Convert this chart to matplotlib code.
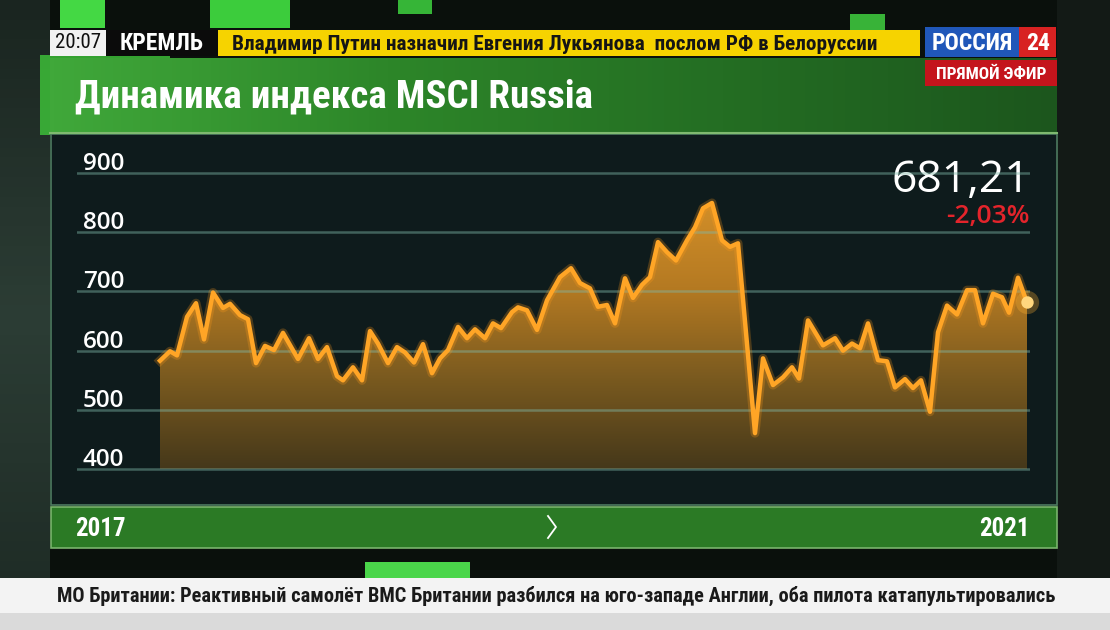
import numpy as np
import matplotlib
matplotlib.use('Agg')
import matplotlib.pyplot as plt
from matplotlib import font_manager
from matplotlib.patches import Rectangle, Polygon
from matplotlib.colors import LinearSegmentedColormap

# Индекс MSCI Russia (время в долях года)
years = [2017.760, 2017.800, 2017.828, 2017.868, 2017.904, 2017.936, 2017.972, 2018.012,
         2018.040, 2018.080, 2018.112, 2018.144, 2018.180, 2018.216, 2018.252, 2018.312,
         2018.356, 2018.392, 2018.428, 2018.468, 2018.492, 2018.532, 2018.568, 2018.600,
         2018.632, 2018.672, 2018.708, 2018.740, 2018.776, 2018.812, 2018.848, 2018.880,
         2018.912, 2018.952, 2018.988, 2019.020, 2019.060, 2019.092, 2019.124, 2019.168,
         2019.192, 2019.228, 2019.268, 2019.308, 2019.360, 2019.404, 2019.440, 2019.480,
         2019.512, 2019.548, 2019.580, 2019.620, 2019.652, 2019.688, 2019.720, 2019.752,
         2019.788, 2019.824, 2019.868, 2019.900, 2019.932, 2019.968, 2020.008, 2020.040,
         2020.072, 2020.140, 2020.172, 2020.212, 2020.252, 2020.288, 2020.316, 2020.352,
         2020.412, 2020.460, 2020.492, 2020.528, 2020.560, 2020.592, 2020.632, 2020.668,
         2020.700, 2020.740, 2020.772, 2020.804, 2020.840, 2020.872, 2020.908, 2020.948,
         2020.988, 2021.020, 2021.052, 2021.092, 2021.128, 2021.156, 2021.192, 2021.228]
values = [583, 599, 592, 657, 680, 619, 698, 672,
          679, 660, 653, 579, 608, 601, 630, 586,
          621, 586, 606, 557, 550, 572, 550, 633,
          612, 579, 606, 597, 580, 611, 562, 587,
          601, 640, 621, 636, 621, 646, 638, 665,
          673, 668, 635, 685, 724, 739, 714, 705,
          674, 677, 646, 722, 689, 711, 724, 783,
          766, 752, 786, 808, 840, 849, 786, 775,
          781, 461, 587, 542, 555, 572, 553, 651,
          609, 621, 600, 612, 604, 646, 584, 582,
          538, 552, 537, 550, 497, 631, 676, 661,
          702, 702, 646, 696, 690, 664, 723, 681.21]
y_ticks = [400, 500, 600, 700, 800, 900]
last_value = '681,21'
last_change = '-2,03%'
start_label = '2017'
end_label = '2021'
title = 'Динамика индекса MSCI Russia'
clock = '20:07'
rubric = 'КРЕМЛЬ'
headline = 'Владимир Путин назначил Евгения Лукьянова  послом РФ в Белоруссии'
ticker = ('МО Британии: Реактивный самолёт ВМС Британии разбился на юго-западе Англии, '
          'оба пилота катапультировались')

W, H = 1110, 630

available = {f.name for f in font_manager.fontManager.ttflist}
def pick(*names):
    for n in names:
        if n in available:
            return n
    return 'DejaVu Sans'

narrow = pick('Liberation Sans Narrow', 'Roboto Condensed', 'Roboto')
digits = pick('Open Sans', 'Roboto')

fig = plt.figure(figsize=(W / 100, H / 100), dpi=100, facecolor='#0a100c')
bg = fig.add_axes([0, 0, 1, 1])
bg.set_xlim(0, W)
bg.set_ylim(H, 0)
bg.axis('off')

def rect(x0, y0, x1, y1, color, **kw):
    bg.add_patch(Rectangle((x0, y0), x1 - x0, y1 - y0, facecolor=color, edgecolor=kw.pop('ec', 'none'), **kw))

renderer = fig.canvas.get_renderer()
def fit(t, width):
    bb = t.get_window_extent(renderer)
    t.set_fontsize(t.get_fontsize() * width / bb.width)

# фон студии
side = LinearSegmentedColormap.from_list('side', ['#1a2520', '#2c3d35', '#1d2a24'])
bg.imshow(side(np.linspace(0, 1, 64))[:, None, :3], extent=[0, 50, H, 0], aspect='auto', zorder=0)
rect(1057, 0, W, H, '#131a16', zorder=0)
for x0, y0, x1, y1, c, a in [(60, 0, 105, 28, '#44d844', 1), (210, 0, 290, 28, '#3ccc3c', 1),
                             (398, 0, 432, 14, '#3cc83c', 0.9), (850, 14, 885, 30, '#3ec63e', 0.9),
                             (40, 55, 170, 135, '#3fc83a', 0.8), (365, 562, 470, 580, '#4ad64a', 1)]:
    rect(x0, y0, x1, y1, c, alpha=a, zorder=0.5)

# заголовок
grad = LinearSegmentedColormap.from_list('title', ['#40a83a', '#2d8629', '#246e23', '#1c561d'])
bg.imshow(grad(np.linspace(0, 1, 256))[None, :, :3], extent=[50, 1057, 133, 58], aspect='auto', zorder=1)
bg.plot([50, 1057], [133, 133], color='#7fba70', lw=1.5, zorder=2)
t = bg.text(75, 107, title, color='white', fontsize=26, fontweight='bold', family=narrow,
            va='baseline', zorder=3)
fit(t, 518)

# верхняя плашка
rect(50, 30, 106, 56, '#f2f2f2', zorder=4)
rect(106, 30, 218, 56, '#0b0b0b', zorder=4)
rect(218, 30, 920, 56, '#f6d300', zorder=4)
bg.text(78, 43, clock, color='#111111', fontsize=15, family=narrow, ha='center', va='center', zorder=5)
bg.text(162, 43, rubric, color='white', fontsize=17, fontweight='bold', family=narrow,
        ha='center', va='center', zorder=5)
t = bg.text(232, 50, headline, color='#151515', fontsize=14, fontweight='bold', family=narrow,
            va='baseline', zorder=5)
fit(t, 648)
rect(925, 27, 1019, 57, '#2057b9', zorder=4)
rect(1019, 27, 1056, 57, '#d82222', zorder=4)
bg.text(972, 43, 'РОССИЯ', color='white', fontsize=17, fontweight='bold', family=narrow,
        ha='center', va='center', zorder=5)
bg.text(1038, 43, '24', color='white', fontsize=17, fontweight='bold', family=narrow,
        ha='center', va='center', zorder=5)
rect(925, 60, 1057, 86, '#c4141c', zorder=4)
bg.text(991, 74, 'ПРЯМОЙ ЭФИР', color='white', fontsize=12.5, fontweight='bold', family=narrow,
        ha='center', va='center', zorder=5)

# панель графика
rect(51, 134, 1057, 505, '#0e1b1c', ec='#4d7b60', lw=1.2, zorder=1)

# нижняя полоса с годами
rect(51, 507, 1057, 548, '#2b7a25', ec='#79b46c', lw=1.2, zorder=1)
bg.text(75, 536, start_label, color='white', fontsize=18, fontweight='bold', family=narrow,
        va='baseline', zorder=3)
bg.text(1030, 536, end_label, color='white', fontsize=18, fontweight='bold', family=narrow,
        ha='right', va='baseline', zorder=3)
bg.plot([548, 556, 548], [516, 527, 538], color='white', lw=1.3, zorder=3)

# бегущая строка
rect(0, 578, W, 613, '#f3f3f3', zorder=1)
rect(0, 613, W, H, '#dadada', zorder=1)
t = bg.text(57, 602, ticker, color='#1a1a1a', fontsize=14, fontweight='bold', family=narrow,
            va='baseline', zorder=3)
fit(t, 1000)

# сам график
px_per_unit = 59.32 / 100
y_lo, y_hi = 390, 910
ax_bottom = 469.3 + (400 - y_lo) * px_per_unit
ax_top = 172.7 - (y_hi - 900) * px_per_unit
ax = fig.add_axes([77 / W, 1 - ax_bottom / H, (1030 - 77) / W, (ax_bottom - ax_top) / H])
ax.patch.set_alpha(0)
ax.axis('off')

x0 = years[0] - 83 * 0.004
x1 = years[-1] + 3 * 0.004

verts = list(zip(years, values)) + [(years[-1], 400), (years[0], 400)]
poly = Polygon(verts, closed=True, facecolor='none', edgecolor='none')
ax.add_patch(poly)
fill_cmap = LinearSegmentedColormap.from_list('fill', ['#45381a', '#7a5a1f', '#b57a22', '#d49029'])
im = ax.imshow(np.linspace(0, 1, 256).reshape(-1, 1), origin='lower', cmap=fill_cmap,
               extent=[years[0], years[-1], 400, 860], aspect='auto', zorder=2)
im.set_clip_path(poly)

for v in y_ticks:
    ax.axhline(v, color='#7fb8a8', lw=1.8, alpha=0.45, zorder=3)
    ax.text(0.006, v + 5, str(v), transform=ax.get_yaxis_transform(), color='white',
            fontsize=17.5, fontweight='semibold', family=digits, va='baseline', zorder=5)

ax.plot(years, values, color='#ff9a1a', lw=6.5, alpha=0.25, zorder=4, solid_joinstyle='round')
ax.plot(years, values, color='#ffa526', lw=3.2, zorder=4, solid_joinstyle='round')
ax.scatter([years[-1]], [values[-1]], s=280, color='#ffb030', alpha=0.3, zorder=5, lw=0, clip_on=False)
ax.scatter([years[-1]], [values[-1]], s=80, color='#ffd77e', zorder=6, lw=0, clip_on=False)

ax.set_xlim(x0, x1)
ax.set_ylim(y_lo, y_hi)

bg.text(1030, 192, last_value, color='white', fontsize=32, family=digits, ha='right',
        va='baseline', zorder=5)
bg.text(1030, 223, last_change, color='#e3242b', fontsize=19, fontweight='semibold',
        family=digits, ha='right', va='baseline', zorder=5)

fig.savefig('out.png', dpi=100, facecolor=fig.get_facecolor())
